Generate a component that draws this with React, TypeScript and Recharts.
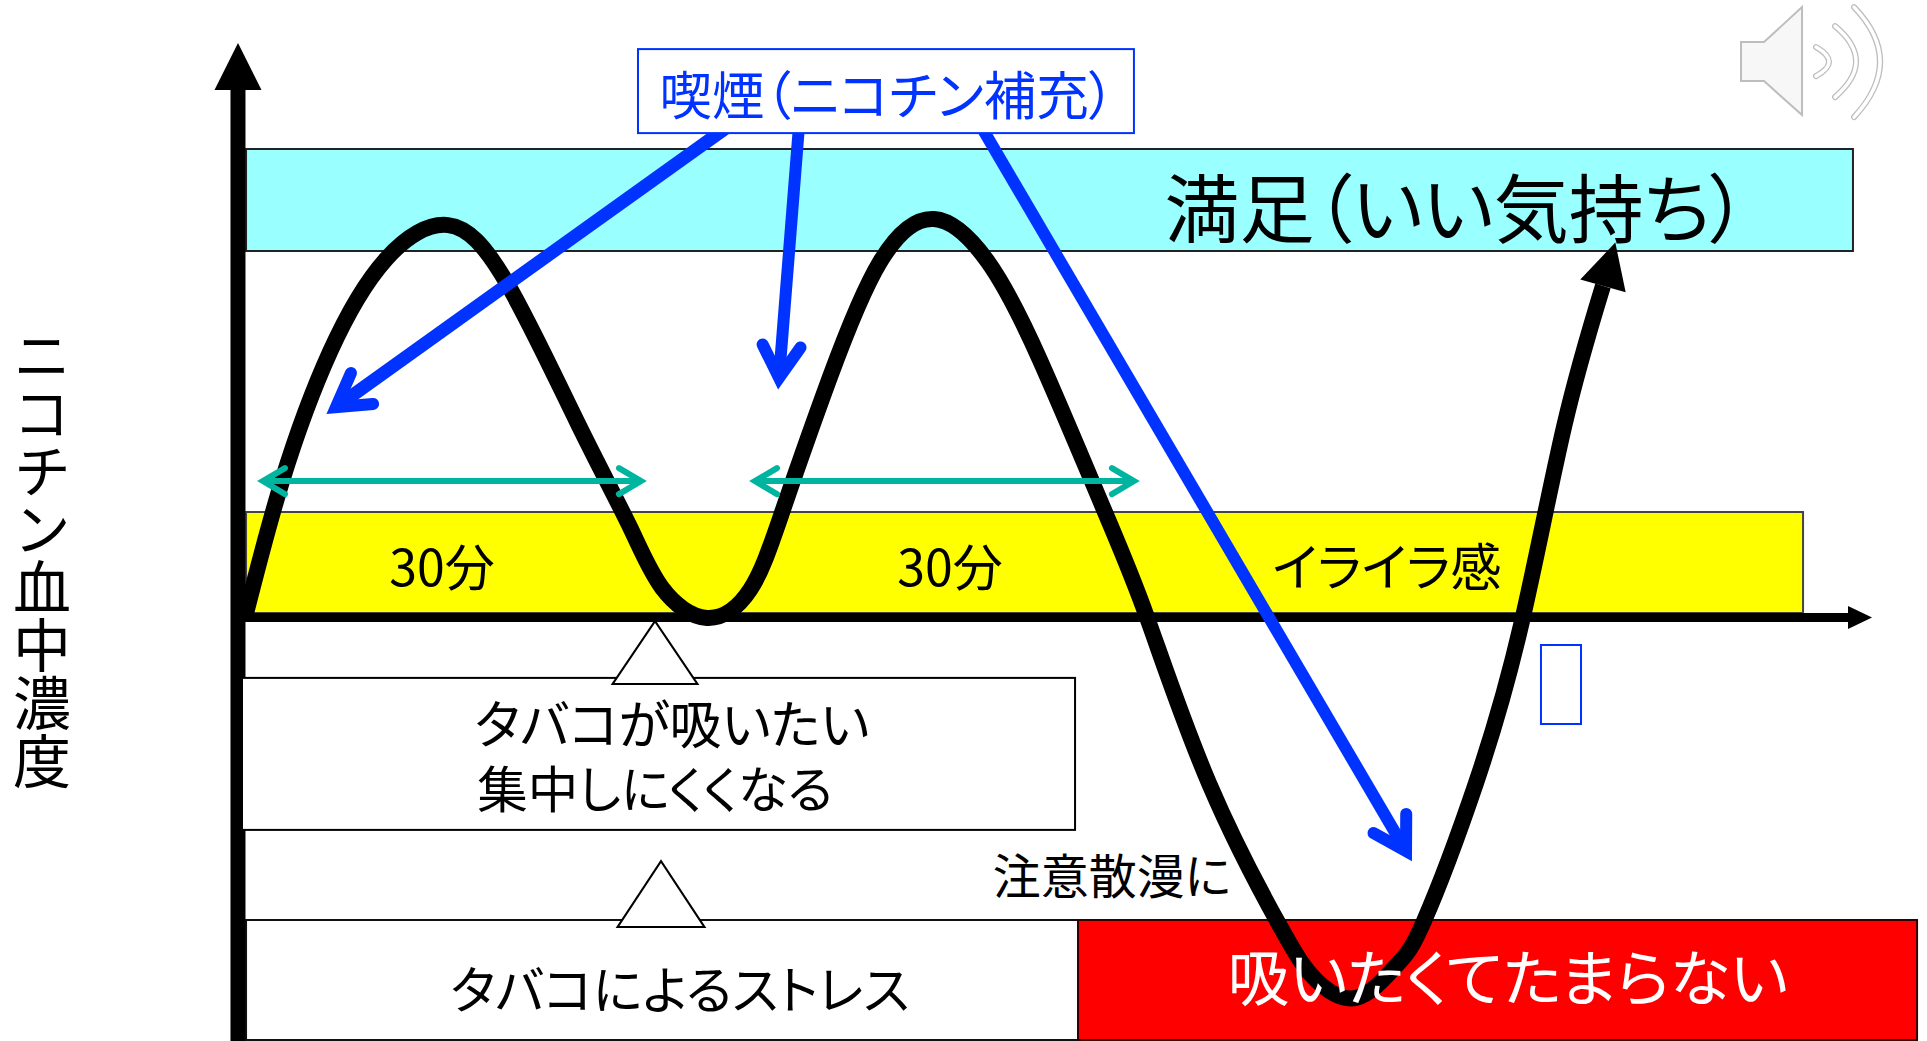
import { ComposedChart, Line, ReferenceArea, ReferenceDot, XAxis, YAxis } from 'recharts';

const WIDTH = 1927;
const HEIGHT = 1041;

// chart scale: x in minutes, y in nicotine level (0 on the time axis)
const PX_PER_MIN = 13;
const PX_PER_LEVEL = 4;
const xDomain = [-245 / PX_PER_MIN, (WIDTH - 245) / PX_PER_MIN];
const yDomain = [(617.5 - HEIGHT) / PX_PER_LEVEL, 617.5 / PX_PER_LEVEL];

const curveMinutes = [
  0, 2.85, 6.54, 10.85, 15.62, 20.15, 25.62, 29.54, 32.08, 35.54, 38.85, 41.38, 45, 48.85, 53, 57.15, 61.15, 66.08, 69.38,
  74.15, 79.69, 82.38, 85.46, 88.54, 90.69, 94.69, 98.23, 101.46, 104.46,
];
const curveLevels = [
  0, 34.1, 66.4, 89.6, 98.1, 83.6, 48.4, 23.1, 7.4, -0.1, 6.9, 26.9, 60.1, 88.9, 99.6, 88.9, 64.4, 26.9, 0.1,
  -41.4, -77.6, -90.6, -95.1, -87.1, -75.9, -41.4, -0.9, 47.6, 82.9,
];
const curve = curveMinutes.map((minute, i) => ({ minute, level: curveLevels[i] }));

const yAxisLine = [
  { minute: -0.54, level: yDomain[0] },
  { minute: -0.54, level: 131.9 },
];
const xAxisLine = [
  { minute: -0.54, level: 0 },
  { minute: 123.31, level: 0 },
];
const smokeArrow1 = [
  { minute: 37.31, level: 123.1 },
  { minute: 7, level: 52.6 },
];
const smokeArrow2 = [
  { minute: 42.62, level: 123.1 },
  { minute: 41.08, level: 59.9 },
];
const smokeArrow3 = [
  { minute: 56.69, level: 122.4 },
  { minute: 89.31, level: -58.4 },
];
const span1 = [
  { minute: 1.38, level: 34.1 },
  { minute: 30.46, level: 34.1 },
];
const span2 = [
  { minute: 39.23, level: 34.1 },
  { minute: 68.38, level: 34.1 },
];
const urgeBox = [
  { minute: -0.23, level: -15.1 },
  { minute: 63.85, level: -53.1 },
];
const smokeBox = [
  { minute: 30.23, level: 142.1 },
  { minute: 68.38, level: 121.1 },
];
const urgeStep = [{ minute: 31.54, level: -0.9 }];
const stressStep = [{ minute: 32, level: -60.9 }];

const noteLabels = [
  '喫煙（ニコチン補充）',
  '満足（いい気持ち）',
  '30分',
  '30分',
  'イライラ感',
  'タバコが吸いたい',
  '集中しにくくなる',
  '注意散漫に',
  'タバコによるストレス',
  '吸いたくてたまらない',
];
const noteMinutes = [49.4, 93.15, 15.15, 54.23, 87.85, 32.85, 31.54, 66.69, 33.46, 97.15];
const noteLevels = [131.5, 103.3, 13.5, 13.5, 13.5, -26, -42, -63.8, -92.2, -89.2];
const notes = noteLabels.map((label, i) => ({ label, minute: noteMinutes[i], level: noteLevels[i] }));

const noteSizes = [52.5, 75, 50, 50, 51, 52, 50.5, 48, 51.5, 61.5];
const noteColors = ['#0033ff', '#000', '#000', '#000', '#000', '#000', '#000', '#000', '#000', '#fff'];

const BLUE = '#0033ff';
const TEAL = '#00b5a0';
const FONT = '"Noto Sans CJK JP", "Noto Sans", sans-serif';

function angleOf(points: { minute: number; level: number }[]) {
  const a = points[points.length - 2];
  const b = points[points.length - 1];
  return (Math.atan2(-(b.level - a.level) * PX_PER_LEVEL, (b.minute - a.minute) * PX_PER_MIN) * 180) / Math.PI;
}

function openHead(points: { minute: number; level: number }[]) {
  const angle = angleOf(points);
  return ({ cx, cy, index }: any) =>
    index === points.length - 1 ? (
      <g key={index} transform={`translate(${cx} ${cy}) rotate(${angle})`}>
        <path d="M-32,-19 L0,0 L-32,19" fill="none" stroke={BLUE} strokeWidth={12} strokeLinecap="round" strokeLinejoin="miter" strokeMiterlimit={10} />
      </g>
    ) : (
      <g key={index} />
    );
}

function solidHead(count: number, angle: number, length: number, halfWidth: number) {
  return ({ cx, cy, index }: any) =>
    index === count - 1 ? (
      <polygon key={index} points={`0,${-halfWidth} ${length},0 0,${halfWidth}`} fill="#000" transform={`translate(${cx} ${cy}) rotate(${angle})`} />
    ) : (
      <g key={index} />
    );
}

function spanHead({ cx, cy, index }: any) {
  return (
    <path
      key={index}
      d="M-22,-13 L0,0 L-22,13"
      fill="none"
      stroke={TEAL}
      strokeWidth={6}
      strokeLinecap="round"
      strokeLinejoin="miter"
      strokeMiterlimit={10}
      transform={`translate(${cx} ${cy}) rotate(${index === 0 ? 180 : 0})`}
    />
  );
}

// box drawn from its first corner, so it can sit above the axis and arrow lines
function boxDot(points: { minute: number; level: number }[], stroke: string) {
  const w = (points[1].minute - points[0].minute) * PX_PER_MIN;
  const h = (points[0].level - points[1].level) * PX_PER_LEVEL;
  return ({ cx, cy, index }: any) =>
    index === 0 ? <rect key={index} x={cx} y={cy} width={w} height={h} fill="#fff" stroke={stroke} strokeWidth={2} /> : <g key={index} />;
}

function triangleDot(height: number, half: number) {
  return ({ cx, cy, index }: any) => (
    <polygon key={index} points={`${cx},${cy} ${cx + half},${cy + height} ${cx - half},${cy + height}`} fill="#fff" stroke="#000" strokeWidth={2} />
  );
}

function noteDot({ cx, cy, index, payload }: any) {
  return (
    <text
      key={index}
      x={cx}
      y={cy}
      fontSize={noteSizes[index]}
      fill={noteColors[index]}
      textAnchor="middle"
      dominantBaseline="central"
      style={{ fontFamily: FONT, fontFeatureSettings: '"palt"' }}
    >
      {payload.label}
    </text>
  );
}

function Speaker({ cx, cy }: any) {
  const waves = ['M75,-14 Q101,1 75,15', 'M94,-35 Q136,0 94,36', 'M113,-54 Q165,0 113,56'];
  return (
    <g transform={`translate(${cx} ${cy})`}>
      <path d="M0,-19 H23 L61,-54 V54 L23,20 H0 Z" fill="#f7f7f7" stroke="#bdbdbd" strokeWidth={2} />
      {waves.map((d) => (
        <g key={d} fill="none">
          <path d={d} stroke="#bdbdbd" strokeWidth={6} strokeLinecap="round" />
          <path d={d} stroke="#fff" strokeWidth={3.5} strokeLinecap="round" />
        </g>
      ))}
    </g>
  );
}

const common = { dataKey: 'level', isAnimationActive: false, activeDot: false, legendType: 'none' } as const;

export default function App() {
  return (
    <div style={{ position: 'absolute', left: 0, top: 0, width: WIDTH, height: HEIGHT, background: '#fff' }}>
      <ComposedChart width={WIDTH} height={HEIGHT} margin={{ top: 0, right: 0, bottom: 0, left: 0 }}>
        <XAxis type="number" dataKey="minute" domain={xDomain} hide allowDataOverflow />
        <YAxis type="number" dataKey="level" domain={yDomain} hide allowDataOverflow />

        <ReferenceArea x1={0.08} x2={123.69} y1={91.6} y2={117.1} fill="#99ffff" fillOpacity={1} stroke="#222" strokeWidth={2} />
        <ReferenceArea x1={0.08} x2={119.85} y1={1.1} y2={26.4} fill="#ffff00" fillOpacity={1} stroke="#444" strokeWidth={2} />
        <ReferenceArea x1={0.08} x2={64.08} y1={-105.6} y2={-75.6} fill="#fff" fillOpacity={1} stroke="#111" strokeWidth={2} />
        <ReferenceArea x1={64.08} x2={128.62} y1={-105.6} y2={-75.6} fill="#ff0000" fillOpacity={1} stroke="#300" strokeWidth={2} />
        <ReferenceArea x1={99.69} x2={102.77} y1={-26.6} y2={-6.9} fill="#fff" fillOpacity={1} stroke={BLUE} strokeWidth={2} />
        <ReferenceDot x={115.08} y={139.1} r={0} shape={Speaker} />

        <Line {...common} data={yAxisLine} stroke="#000" strokeWidth={15} dot={solidHead(2, -90, 47, 23.5)} />
        <Line {...common} data={xAxisLine} stroke="#000" strokeWidth={9} dot={solidHead(2, 0, 24, 11.5)} />

        <Line {...common} data={urgeBox} stroke="none" dot={boxDot(urgeBox, '#000')} />
        <Line {...common} data={urgeStep} stroke="none" dot={triangleDot(63, 42.5)} />
        <Line {...common} data={stressStep} stroke="none" dot={triangleDot(66, 43.5)} />

        <Line {...common} data={curve} type="natural" stroke="#000" strokeWidth={16} dot={solidHead(curve.length, -74.1, 45, 23.6)} />

        <Line {...common} data={span1} stroke={TEAL} strokeWidth={6} dot={spanHead} />
        <Line {...common} data={span2} stroke={TEAL} strokeWidth={6} dot={spanHead} />

        <Line {...common} data={smokeArrow1} stroke={BLUE} strokeWidth={13} dot={openHead(smokeArrow1)} />
        <Line {...common} data={smokeArrow2} stroke={BLUE} strokeWidth={12} dot={openHead(smokeArrow2)} />
        <Line {...common} data={smokeArrow3} stroke={BLUE} strokeWidth={12} dot={openHead(smokeArrow3)} />

        <Line {...common} data={smokeBox} stroke="none" dot={boxDot(smokeBox, BLUE)} />
        <Line {...common} data={notes} stroke="none" dot={noteDot} />

        <text x={42} y={326} fontSize={58} fill="#000" style={{ fontFamily: FONT, writingMode: 'vertical-rl' }}>
          ニコチン血中濃度
        </text>
      </ComposedChart>
    </div>
  );
}
